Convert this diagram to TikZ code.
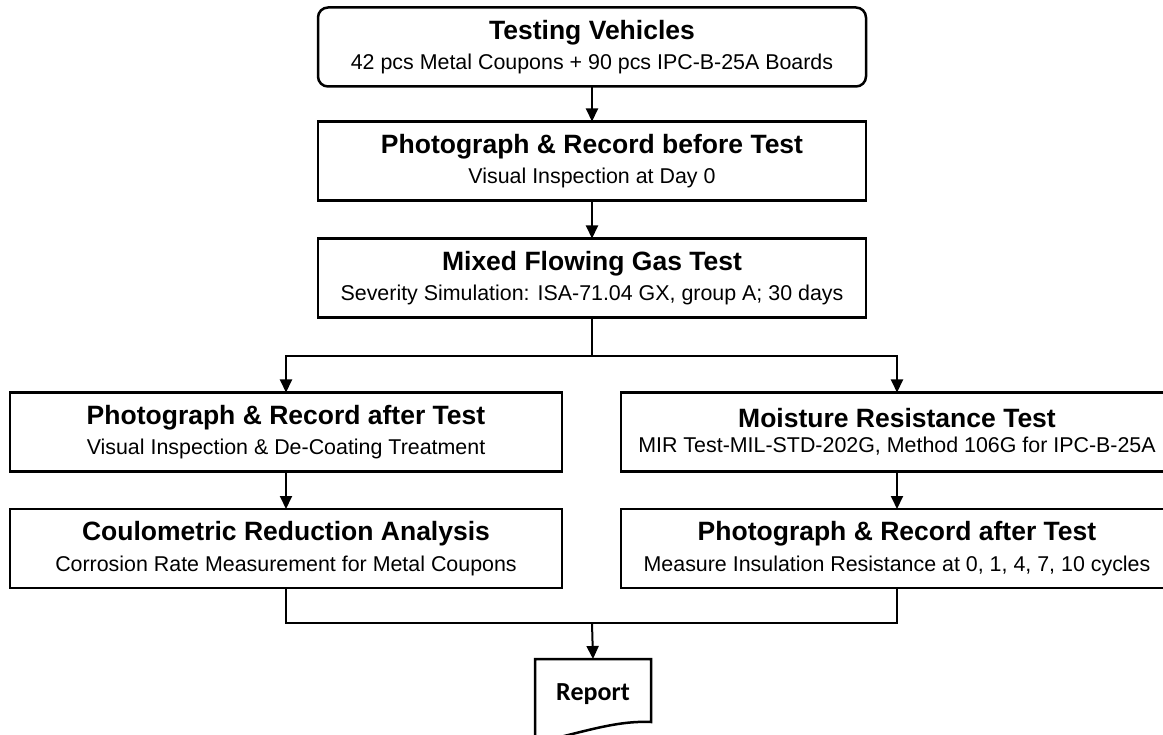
\documentclass[tikz,border=0pt]{standalone}
\usepackage{fontspec}
\setmainfont{Liberation Sans}
\newfontfamily\reportfont{Carlito}
\usetikzlibrary{arrows.meta}
\newcommand{\stagetext}[2]{{\fontsize{26.5}{30}\selectfont\bfseries #1}\\[8.5pt]{\fontsize{21.4}{25}\selectfont #2}}
\tikzset{%
        stagebox/.style = {
            draw = black,
            line width = 2.5pt,
            fill = white,
            minimum width = 548pt,
            minimum height = 79pt,
            inner sep = 2pt,
            outer sep = 0pt,
            align = center
        },
        widebox/.style = {stagebox, minimum width = 552pt},
        link/.style = {draw = black, line width = 2pt},
        flow/.style = {link, -{Triangle[length=13pt, width=12pt]}}
}

\begin{document}
\begin{tikzpicture}[x=1pt, y=-1pt]
            \useasboundingbox (0, 0) rectangle (1163, 735);
            \clip (0, 0) rectangle (1163, 735);
            % centre column
            \node[stagebox, rounded corners=10pt] (vehicles) at (592, 47) {\stagetext{Testing Vehicles}{42 pcs Metal Coupons + 90 pcs IPC-B-25A Boards}};
            \node[stagebox] (before) at (592, 161) {\stagetext{Photograph \& Record before Test}{Visual Inspection at Day 0}};
            \node[stagebox] (mfg) at (592, 278) {\stagetext{Mixed Flowing Gas Test}{Severity Simulation: ISA-71.04 GX, group A; 30 days}};
            % two branches
            \node[widebox] (after) at (286, 432) {\stagetext{Photograph \& Record after Test}{Visual Inspection \& De-Coating Treatment}};
            \node[widebox] (coulo) at (286, 548.5) {\stagetext{Coulometric Reduction Analysis}{Corrosion Rate Measurement for Metal Coupons}};
            \node[widebox] (mir) at (897, 432) {\stagetext{Moisture Resistance Test}{MIR Test-MIL-STD-202G, Method 106G for IPC-B-25A}};
            \node[widebox] (insul) at (897, 548.5) {\stagetext{Photograph \& Record after Test}{Measure Insulation Resistance at 0, 1, 4, 7, 10 cycles}};
            % report document
            \node[minimum width=116pt, minimum height=70pt, inner sep=0pt, outer sep=0pt] (report) at (593, 694) {\reportfont\fontsize{26}{30}\selectfont\bfseries Report};
            \draw[line width=2.5pt] (report.north west) -- (report.north east) -- ([yshift=7pt]report.south east)
                .. controls ([xshift=-40pt, yshift=9pt]report.south east) and ([xshift=35pt, yshift=-8pt]report.south west) .. ([yshift=-13pt]report.south west) -- cycle;
            \coordinate (split) at (592, 356);
            \coordinate (merge) at (592, 623);
            \draw[flow] (vehicles) -- (before);
            \draw[flow] (before) -- (mfg);
            \draw[link] (mfg.south) -- (split);
            \draw[flow] (split) -| (after.north);
            \draw[flow] (split) -| (mir.north);
            \draw[flow] (after) -- (coulo);
            \draw[flow] (mir) -- (insul);
            \draw[link] (coulo.south) |- (merge);
            \draw[link] (insul.south) |- (merge);
            \draw[flow] (merge) -- (report.north);
        \end{tikzpicture}
\end{document}
